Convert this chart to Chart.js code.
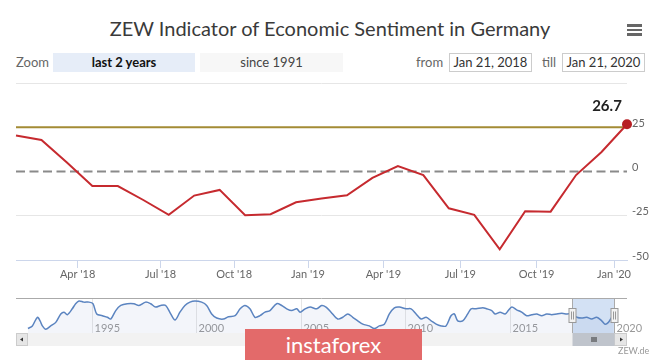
<!DOCTYPE html>
<html>
<head>
<meta charset="utf-8">
<script src="https://cdn.jsdelivr.net/npm/chart.js@4"></script>
<style>
  body { margin: 0; background: #fff; font-family: Lato, "Open Sans", sans-serif; }
  #wrap { position: relative; width: 665px; height: 360px; overflow: hidden; background: #fff; }
  .abs { position: absolute; white-space: nowrap; }
  #title { left: 0; top: 16px; width: 660px; text-align: center; font-size: 20px; line-height: 24px; color: #3a3a3a; }
  .bar { left: 627px; width: 15px; height: 2.5px; background: #666; }
  .lbl { font-size: 13px; line-height: 19px; color: #666; top: 53px; }
  .btn { top: 53px; height: 19px; line-height: 19px; font-size: 13px; text-align: center; }
  .box { top: 53px; height: 17px; line-height: 17px; font-size: 13px; text-align: center; color: #333; border: 1px solid #ccc; background: #fff; }
  #credit { left: 618px; top: 345px; font-size: 9px; color: #999; }
  #wm { left: 245px; top: 329px; width: 177px; height: 40px; background: #e36a6a; color: #fff; font-size: 22px; line-height: 31px; text-align: center; }
</style>
</head>
<body>
<div id="wrap">
  <div id="title" class="abs">ZEW Indicator of Economic Sentiment in Germany</div>
  <div class="abs bar" style="top:24px"></div>
  <div class="abs bar" style="top:28.5px"></div>
  <div class="abs bar" style="top:33px"></div>

  <div class="abs lbl" style="left:16px">Zoom</div>
  <div class="abs btn" style="left:53px;width:142px;background:#e6edf8;color:#111;font-weight:bold">last 2 years</div>
  <div class="abs btn" style="left:200px;width:143px;background:#f7f7f7;color:#444">since 1991</div>
  <div class="abs lbl" style="left:416px">from</div>
  <div class="abs box" style="left:449px;width:81px">Jan 21, 2018</div>
  <div class="abs lbl" style="left:542px">till</div>
  <div class="abs box" style="left:562px;width:81px">Jan 21, 2020</div>

  <canvas id="main" class="abs" style="left:0;top:0" width="665" height="290"></canvas>
  <canvas id="nav" class="abs" style="left:0;top:290px" width="665" height="60"></canvas>

  <div id="credit" class="abs">ZEW.de</div>
  <div id="wm" class="abs">instaforex</div>
</div>

<script>
// monthly releases, Jan 2018 .. Jan 2020
var months = ['Jan 18', 'Feb 18', 'Mar 18', 'Apr 18', 'May 18', 'Jun 18', 'Jul 18', 'Aug 18', 'Sep 18', 'Oct 18', 'Nov 18', 'Dec 18',
              'Jan 19', 'Feb 19', 'Mar 19', 'Apr 19', 'May 19', 'Jun 19', 'Jul 19', 'Aug 19', 'Sep 19', 'Oct 19', 'Nov 19', 'Dec 19', 'Jan 20'];
var sentiment = [20.4, 17.8, 5.1, -8.2, -8.2, -16.1, -24.5, -13.6, -10.4, -24.7, -24.1, -17.4,
                 -15.3, -13.4, -3.6, 3.1, -2.0, -20.8, -24.5, -44.0, -22.4, -22.7, -2.0, 11.0, 26.7];

// x-axis ticks (position in release index, label)
var xTickPos = [2.42, 5.68, 8.57, 11.47, 14.43, 17.45, 20.45, 23.49];
var xTickLabels = ["Apr '18", "Jul '18", "Oct '18", "Jan '19", "Apr '19", "Jul '19", "Oct '19", "Jan '20"];

// reference lines
var goldLevel = 25;
var zeroLevel = 0;

var navYears = [1991.95, 1992.16, 1992.40, 1992.53, 1992.64, 1992.80, 1993.04, 1993.28, 1993.52, 1993.68, 1993.83,
  1994.07, 1994.23, 1994.39, 1994.63, 1994.87, 1995.06, 1995.24, 1995.51, 1995.75, 1995.91, 1996.15, 1996.39, 1996.70,
  1997.02, 1997.26, 1997.58, 1997.82, 1998.06, 1998.30, 1998.54, 1998.78, 1998.99, 1999.22, 1999.46, 1999.70, 1999.94,
  2000.26, 2000.50, 2000.74, 2000.98, 2001.30, 2001.54, 2001.86, 2002.10, 2002.33, 2002.57, 2002.81, 2003.05, 2003.29,
  2003.53, 2003.85, 2004.09, 2004.33, 2004.57, 2004.81, 2004.97, 2005.21, 2005.45, 2005.77, 2006.00, 2006.21, 2006.45,
  2006.77, 2007.01, 2007.25, 2007.49, 2007.73, 2007.97, 2008.28, 2008.52, 2008.76, 2009.00, 2009.24, 2009.48, 2009.72,
  2010.04, 2010.28, 2010.52, 2010.76, 2011.00, 2011.24, 2011.48, 2011.72, 2011.95, 2012.19, 2012.35, 2012.51, 2012.75,
  2012.99, 2013.15, 2013.39, 2013.71, 2013.90, 2014.14, 2014.30, 2014.54, 2014.78, 2014.93, 2015.10, 2015.33, 2015.57,
  2015.81, 2016.05, 2016.29, 2016.53, 2016.77, 2017.01, 2017.25, 2017.49, 2017.73, 2017.97, 2018.21, 2018.44, 2018.68,
  2018.92, 2019.16, 2019.40, 2019.56, 2019.72, 2019.88, 2019.96];
var navValues = [-50, -37, 7, -11, -37, -54, -37, -19, 24, 33, 20,
  50, 76, 90, 84, 84, 76, 24, 15, 7, -2, 41, 67, 76,
  76, 67, 84, 76, 59, 67, 67, 24, -7, 33, 67, 84, 90,
  84, 67, 24, 3, -2, 10, 15, 50, 67, 50, 7, 15, 33,
  41, 76, 67, 50, 41, 50, 33, 50, 59, 50, 67, 59, 33,
  -2, 7, 24, 7, -11, -28, -37, -50, -37, -28, 24, 55, 59,
  50, 50, 24, -2, 7, -11, -28, -37, -37, 15, 24, -11, -11,
  24, 50, 50, 55, 50, 41, 24, 33, 24, 41, 59, 45, 33,
  15, 20, 24, 15, 24, 20, 24, 27, 24, 24, 7, 3, 7,
  -2, 7, -11, -28, -19, 7, 15];
var navYearTicks = [1995, 2000, 2005, 2010, 2015, 2020];
var navRange = [2017.98, 2020.0];

var refLines = {
  id: 'refLines',
  beforeDatasetsDraw: function (chart) {
    var ctx = chart.ctx, a = chart.chartArea, y = chart.scales.y;
    ctx.save();
    var yz = y.getPixelForValue(zeroLevel);
    ctx.strokeStyle = '#8a8a8a';
    ctx.lineWidth = 1.8;
    ctx.setLineDash([9, 4.5]);
    ctx.beginPath(); ctx.moveTo(a.left, yz); ctx.lineTo(a.right, yz); ctx.stroke();
    ctx.setLineDash([]);
    var yg = y.getPixelForValue(goldLevel);
    ctx.strokeStyle = '#a38b35';
    ctx.lineWidth = 2;
    ctx.beginPath(); ctx.moveTo(a.left, yg); ctx.lineTo(a.right, yg); ctx.stroke();
    ctx.restore();
  },
  afterDatasetsDraw: function (chart) {
    var pts = chart.getDatasetMeta(0).data;
    var p = pts[pts.length - 1];
    var ctx = chart.ctx;
    ctx.save();
    ctx.font = 'bold 15px Lato, "Open Sans", sans-serif';
    ctx.fillStyle = '#222';
    ctx.textAlign = 'center';
    ctx.textBaseline = 'middle';
    ctx.fillText(sentiment[sentiment.length - 1].toFixed(1), p.x - 20, p.y - 18);
    ctx.restore();
  }
};

new Chart(document.getElementById('main').getContext('2d'), {
  type: 'line',
  data: {
    labels: months,
    datasets: [{
      data: sentiment.map(function (v, i) { return { x: i, y: v }; }),
      borderColor: '#c62a2f',
      borderWidth: 2,
      tension: 0,
      clip: false,
      pointRadius: sentiment.map(function (v, i) { return i === sentiment.length - 1 ? 5 : 0; }),
      pointBackgroundColor: '#b71f24',
      pointBorderWidth: 0
    }]
  },
  options: {
    responsive: false,
    animation: false,
    layout: { padding: { top: 83, left: 16, right: 0, bottom: 0 } },
    plugins: { legend: { display: false }, tooltip: { enabled: false } },
    scales: {
      x: {
        type: 'linear',
        min: 0,
        max: months.length - 1,
        afterBuildTicks: function (s) { s.ticks = xTickPos.map(function (v) { return { value: v }; }); },
        afterFit: function (s) { s.height = 30; },
        grid: { drawOnChartArea: false, drawTicks: true, tickLength: 8, tickColor: '#ccd6eb' },
        border: { color: '#ccd6eb', width: 1 },
        ticks: {
          autoSkip: false, maxRotation: 0, padding: 0,
          color: '#666', font: { size: 11, family: 'Lato, "Open Sans", sans-serif' },
          callback: function (v, i) { return xTickLabels[i]; }
        }
      },
      y: {
        position: 'right',
        min: -50,
        max: 50,
        afterFit: function (s) { s.width = 38; },
        grid: {
          drawTicks: false,
          lineWidth: 1,
          color: function (c) {
            var v = c.tick && c.tick.value;
            return (v === 50 || v === -25) ? '#e6e6e6' : 'rgba(0,0,0,0)';
          }
        },
        border: { display: false },
        ticks: {
          stepSize: 25, padding: 5, labelOffset: -4,
          color: '#666', font: { size: 11, family: 'Lato, "Open Sans", sans-serif' },
          callback: function (v) { return v === 50 ? '' : v; }
        }
      }
    }
  },
  plugins: [refLines]
});

var navDecor = {
  id: 'navDecor',
  beforeDatasetsDraw: function (chart) {
    var ctx = chart.ctx, a = chart.chartArea, xs = chart.scales.x;
    ctx.save();
    // year grid lines + labels
    ctx.strokeStyle = '#e6e6e6';
    ctx.lineWidth = 1;
    ctx.font = '11px Lato, "Open Sans", sans-serif';
    ctx.fillStyle = '#999';
    ctx.textBaseline = 'middle';
    navYearTicks.forEach(function (yr) {
      var px = Math.round(xs.getPixelForValue(yr)) + 0.5;
      ctx.beginPath(); ctx.moveTo(px, a.top); ctx.lineTo(px, a.bottom); ctx.stroke();
      ctx.fillText(String(yr), px + 2, a.bottom - 5);
    });
    // selected range mask
    var x1 = xs.getPixelForValue(navRange[0]), x2 = xs.getPixelForValue(navRange[1]);
    ctx.fillStyle = 'rgba(110,155,220,0.3)';
    ctx.fillRect(x1, a.top, x2 - x1, a.bottom - a.top);
    ctx.restore();
  },
  afterDatasetsDraw: function (chart) {
    var ctx = chart.ctx, a = chart.chartArea, xs = chart.scales.x;
    var x1 = Math.round(xs.getPixelForValue(navRange[0])) + 0.5;
    var x2 = Math.round(xs.getPixelForValue(navRange[1])) + 0.5;
    ctx.save();
    ctx.strokeStyle = '#aaa';
    ctx.lineWidth = 1;
    ctx.beginPath();
    ctx.moveTo(a.left, a.top + 0.5); ctx.lineTo(a.right, a.top + 0.5);
    ctx.moveTo(x1, a.top); ctx.lineTo(x1, a.bottom);
    ctx.moveTo(x2, a.top); ctx.lineTo(x2, a.bottom);
    ctx.stroke();
    // handles
    var hy = (a.top + a.bottom) / 2;
    [x1, x2].forEach(function (hx) {
      ctx.fillStyle = '#f2f2f2';
      ctx.strokeStyle = '#999';
      ctx.fillRect(hx - 3.5, hy - 7, 7, 14);
      ctx.strokeRect(hx - 3.5, hy - 7, 7, 14);
      ctx.beginPath();
      ctx.moveTo(hx - 1, hy - 4); ctx.lineTo(hx - 1, hy + 4);
      ctx.moveTo(hx + 1, hy - 4); ctx.lineTo(hx + 1, hy + 4);
      ctx.stroke();
    });
    // scrollbar
    var sy = a.bottom, sh = 13;
    ctx.fillStyle = '#f2f2f2';
    ctx.fillRect(a.left, sy, a.right - a.left, sh);
    ctx.fillStyle = '#e6e6e6';
    ctx.strokeStyle = '#ccc';
    ctx.fillRect(a.left, sy, 12, sh); ctx.strokeRect(a.left + 0.5, sy + 0.5, 11, sh - 1);
    ctx.fillRect(a.right - 13, sy, 13, sh); ctx.strokeRect(a.right - 12.5, sy + 0.5, 12, sh - 1);
    ctx.fillStyle = '#bfc4cc';
    ctx.fillRect(x1, sy, x2 - x1, sh);
    ctx.fillStyle = '#333';
    ctx.beginPath();
    ctx.moveTo(a.left + 4, sy + 6.5); ctx.lineTo(a.left + 7, sy + 4.5); ctx.lineTo(a.left + 7, sy + 8.5); ctx.fill();
    ctx.beginPath();
    ctx.moveTo(a.right - 4, sy + 6.5); ctx.lineTo(a.right - 7, sy + 4.5); ctx.lineTo(a.right - 7, sy + 8.5); ctx.fill();
    ctx.strokeStyle = '#333';
    var gx = (x1 + x2) / 2;
    ctx.beginPath();
    [-2, 0, 2].forEach(function (d) { ctx.moveTo(gx + d + 0.5, sy + 4); ctx.lineTo(gx + d + 0.5, sy + 9); });
    ctx.stroke();
    ctx.restore();
  }
};

new Chart(document.getElementById('nav').getContext('2d'), {
  type: 'line',
  data: {
    datasets: [{
      data: navYears.map(function (yr, i) { return { x: yr, y: navValues[i] }; }),
      borderColor: '#5b84c0',
      borderWidth: 1.5,
      backgroundColor: 'rgba(102,133,194,0.08)',
      fill: 'start',
      tension: 0.3,
      pointRadius: 0
    }]
  },
  options: {
    responsive: false,
    animation: false,
    layout: { padding: { top: 8, left: 16, right: 38, bottom: 17 } },
    plugins: { legend: { display: false }, tooltip: { enabled: false } },
    scales: {
      x: { type: 'linear', display: false, min: 1991.378, max: 2020.61 },
      y: { display: false, min: -73, max: 105 }
    }
  },
  plugins: [navDecor]
});
</script>
</body>
</html>
